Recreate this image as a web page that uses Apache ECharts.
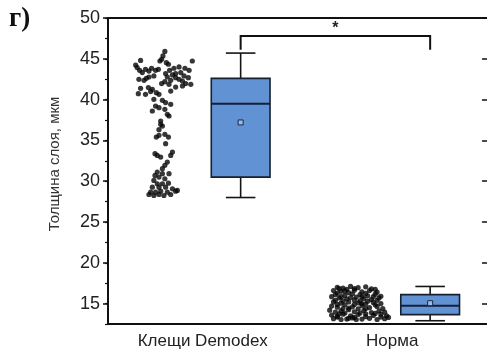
<!DOCTYPE html>
<html>
<head>
<meta charset="utf-8">
<script src="https://cdn.jsdelivr.net/npm/echarts@6/dist/echarts.min.js"></script>
<style>
html,body{margin:0;padding:0;background:#fff;}
#chart{width:487px;height:351px;}
</style>
</head>
<body>
<div id="chart"></div>
<script>
// ---------- data ----------
const categories = ['Клещи Demodex', 'Норма'];
const yTickLabels = ['12.5','15','17.5','20','22.5','25','27.5','30','32.5','35','37.5','40','42.5','45','47.5','50'];
const yAxisTitle = 'Толщина слоя, мкм';
const panelLabel = 'г)';

// individual measurements [jittered x, thickness]
const demodexPoints = [
  [0.800,45.90],[0.790,45.35],[0.783,44.94],[0.774,44.73],[0.808,44.53],[0.945,44.73],[0.819,44.33],
  [0.672,44.80],[0.646,44.24],[0.654,43.92],[0.667,43.59],[0.681,43.31],[0.698,43.71],[0.716,43.50],
  [0.730,43.84],[0.751,43.59],[0.766,43.71],[0.742,42.90],[0.716,42.77],[0.702,42.61],[0.690,42.36],
  [0.663,42.49],[0.804,43.19],[0.825,43.59],[0.848,43.84],[0.875,44.00],[0.906,43.84],[0.928,43.59],
  [0.857,43.19],[0.840,43.02],[0.813,42.77],[0.800,42.20],[0.831,42.36],[0.857,42.69],[0.875,42.49],
  [0.893,42.28],[0.910,41.96],[0.937,41.87],[0.901,42.90],[0.884,43.31],[0.924,42.69],[0.822,41.87],
  [0.783,41.96],[0.672,41.38],[0.713,41.47],[0.734,41.26],[0.660,40.73],[0.698,40.65],[0.725,40.98],
  [0.755,40.85],[0.769,40.65],[0.831,41.05],[0.857,41.54],[0.893,41.67],[0.742,40.03],[0.787,39.91],
  [0.804,39.63],[0.831,39.42],[0.751,39.21],[0.769,39.01],[0.800,38.81],[0.734,38.60],[0.813,38.19],
  [0.822,37.99],[0.778,37.38],[0.787,36.76],
  [0.778,36.97],[0.769,36.31],[0.800,35.74],[0.755,35.41],[0.819,35.41],[0.769,35.62],[0.804,34.60],
  [0.748,33.37],[0.760,33.16],[0.840,33.57],[0.831,33.16],[0.778,32.96],[0.813,32.34],[0.800,31.94],
  [0.787,31.53],[0.760,31.12],[0.822,30.92],[0.787,30.92],[0.748,30.71],[0.769,30.50],[0.800,30.30],
  [0.742,30.10],[0.760,29.69],[0.787,29.69],[0.819,29.76],[0.734,29.27],[0.769,29.27],[0.804,29.27],
  [0.840,29.07],[0.725,28.66],[0.751,28.66],[0.778,28.78],[0.813,28.66],[0.857,28.78],[0.742,28.25],
  [0.769,28.37],[0.795,28.25],[0.831,28.37],[0.866,28.87],[0.716,28.37]
];
const normaPoints = [
  [1.71,17.00],[1.74,16.90],[1.78,17.10],[1.82,16.95],[1.86,17.05],[1.89,16.80],[1.76,16.75],
  [1.69,16.60],[1.73,16.50],[1.80,16.65],[1.84,16.45],[1.88,16.60],[1.92,16.40],[1.71,16.30],[1.77,16.35],
  [1.70,16.10],[1.75,16.00],[1.79,16.20],[1.83,16.10],[1.87,15.95],[1.91,16.15],[1.94,15.90],[1.68,15.85],[1.81,15.80],
  [1.72,15.70],[1.76,15.55],[1.80,15.45],[1.85,15.60],[1.89,15.50],[1.93,15.70],[1.70,15.40],[1.78,15.75],[1.87,15.30],
  [1.69,15.20],[1.73,15.05],[1.77,15.20],[1.82,15.10],[1.86,14.95],[1.90,15.15],[1.94,15.00],[1.75,14.85],[1.80,14.90],
  [1.68,14.70],[1.71,14.55],[1.74,14.40],[1.79,14.60],[1.84,14.75],[1.88,14.50],[1.92,14.65],[1.95,14.40],[1.82,14.35],
  [1.67,14.20],[1.70,13.95],[1.73,14.10],[1.77,14.25],[1.80,14.00],[1.85,14.15],[1.89,13.90],[1.93,14.10],[1.96,13.95],[1.75,13.85],
  [1.68,13.60],[1.71,13.45],[1.74,13.70],[1.78,13.50],[1.82,13.65],[1.86,13.40],[1.90,13.55],[1.94,13.70],[1.97,13.50],[1.80,13.30],
  [1.69,13.15],[1.73,13.05],[1.77,13.20],[1.84,13.10],[1.88,13.20],[1.92,13.05],[1.96,13.15],[1.98,13.30],[1.71,13.35],
  [1.72,16.85],[1.80,16.85],[1.91,16.75],[1.75,16.55],[1.86,16.25],[1.73,15.85],[1.84,15.85],[1.90,15.85],
  [1.74,15.35],[1.83,15.35],[1.92,15.40],[1.71,14.90],[1.84,15.00],[1.91,14.85],[1.77,14.45],[1.86,14.40],
  [1.72,13.75],[1.83,13.85],[1.91,13.80],[1.76,13.10],[1.81,13.05],[1.94,13.35],[1.86,13.75],[1.79,13.25]
];

// box statistics: [group index, min, Q1, median, Q3, max, mean]
const boxStats = [
  [0, 28.0, 30.5, 39.5, 42.6, 45.7, 37.2],
  [1, 12.9, 13.65, 14.75, 16.1, 17.1, 15.05]
];

// significance bracket: [from group, to group, bracket level, leg end level]
const significance = [[0, 1, 47.8, 46.1]];
const sigLabel = '*';

// ---------- layout / style ----------
const BOX_OFFSET = 0.2;
const BOX_HALF = 0.155;
const CAP_HALF = 0.078;
const FONT = '"Liberation Sans", Arial, sans-serif';
const majorTick = (i, v) => Number(v) % 5 === 0;

const chart = echarts.init(document.getElementById('chart'), null, {renderer: 'canvas'});

const option = {
  animation: false,
  backgroundColor: '#fff',
  grid: {left: 108, right: -1, top: 18, bottom: 27, containLabel: false},
  graphic: [
    {type: 'text', left: 9, top: 6, style: {text: panelLabel, font: 'bold 27px "Liberation Serif", "Times New Roman", serif', fill: '#111'}},
    {type: 'text', x: 55, y: 164, rotation: Math.PI / 2,
     style: {text: yAxisTitle, font: '15px ' + FONT, fill: '#333', align: 'center', verticalAlign: 'middle'}}
  ],
  xAxis: [
    {type: 'value', min: 0.5, max: 2.5, show: false},
    {type: 'category', position: 'bottom', data: categories,
     axisLine: {lineStyle: {color: '#111', width: 2}},
     axisTick: {alignWithLabel: true, length: 5, lineStyle: {color: '#111', width: 1.5}},
     axisLabel: {fontSize: 17, fontFamily: FONT, color: '#222', margin: 9},
     splitLine: {show: false}},
    {type: 'category', position: 'top', data: categories,
     axisLine: {lineStyle: {color: '#111', width: 2}},
     axisTick: {alignWithLabel: true, inside: true, length: 5, lineStyle: {color: '#111', width: 1.5}},
     axisLabel: {show: false}, splitLine: {show: false}}
  ],
  yAxis: [
    {type: 'value', min: 12.5, max: 50, show: false},
    {type: 'category', position: 'left', data: yTickLabels, boundaryGap: false,
     axisLine: {lineStyle: {color: '#111', width: 2}},
     axisTick: {interval: majorTick, length: 5, lineStyle: {color: '#111', width: 1.5}},
     axisLabel: {interval: majorTick, fontSize: 18, fontFamily: FONT, color: '#222', margin: 8},
     splitLine: {show: false}},
    {type: 'category', position: 'left', data: yTickLabels, boundaryGap: false,
     axisLine: {show: false},
     axisTick: {interval: 0, length: 3, lineStyle: {color: '#111', width: 1.2}},
     axisLabel: {show: false}, splitLine: {show: false}},
    {type: 'category', position: 'right', data: yTickLabels, boundaryGap: false,
     axisLine: {show: false},
     axisTick: {interval: majorTick, inside: true, length: 5, lineStyle: {color: '#111', width: 1.5}},
     axisLabel: {show: false}, splitLine: {show: false}}
  ],
  series: [
    {type: 'scatter', xAxisIndex: 0, yAxisIndex: 0, data: demodexPoints,
     symbol: 'circle', symbolSize: 5.2, itemStyle: {color: '#050505'}, silent: true},
    {type: 'scatter', xAxisIndex: 0, yAxisIndex: 0, data: normaPoints,
     symbol: 'circle', symbolSize: 5.2, itemStyle: {color: '#050505'}, silent: true},
    {type: 'custom', xAxisIndex: 0, yAxisIndex: 0, data: boxStats,
     encode: {x: 0, y: [1, 2, 3, 4, 5]},
     renderItem: function (params, api) {
       const c = api.value(0) + 1 + BOX_OFFSET;
       const mn = api.value(1), q1 = api.value(2), med = api.value(3), q3 = api.value(4), mx = api.value(5), mean = api.value(6);
       const tl = api.coord([c - BOX_HALF, q3]);
       const br = api.coord([c + BOX_HALF, q1]);
       const pMax = api.coord([c, mx]), pQ3 = api.coord([c, q3]), pQ1 = api.coord([c, q1]), pMin = api.coord([c, mn]);
       const capL = api.coord([c - CAP_HALF, mx])[0], capR = api.coord([c + CAP_HALF, mx])[0];
       const medY = api.coord([c, med])[1];
       const pMean = api.coord([c, mean]);
       const line = {stroke: '#151515', lineWidth: 1.6};
       return {type: 'group', children: [
         {type: 'line', shape: {x1: pMax[0], y1: pMax[1], x2: pQ3[0], y2: pQ3[1]}, style: line},
         {type: 'line', shape: {x1: pQ1[0], y1: pQ1[1], x2: pMin[0], y2: pMin[1]}, style: line},
         {type: 'line', shape: {x1: capL, y1: pMax[1], x2: capR, y2: pMax[1]}, style: line},
         {type: 'line', shape: {x1: capL, y1: pMin[1], x2: capR, y2: pMin[1]}, style: line},
         {type: 'rect', shape: {x: tl[0], y: tl[1], width: br[0] - tl[0], height: br[1] - tl[1]},
          style: {fill: '#6192d3', stroke: '#17202e', lineWidth: 1.6}},
         {type: 'line', shape: {x1: tl[0], y1: medY, x2: br[0], y2: medY}, style: {stroke: '#14203a', lineWidth: 2}},
         {type: 'rect', shape: {x: pMean[0] - 2.5, y: pMean[1] - 2.5, width: 5, height: 5},
          style: {fill: '#9dbbe6', stroke: '#1b2a45', lineWidth: 1}}
       ]};
     }},
    {type: 'custom', xAxisIndex: 0, yAxisIndex: 0, data: significance,
     encode: {x: [0, 1], y: [2, 3]},
     renderItem: function (params, api) {
       const x1 = api.value(0) + 1 + BOX_OFFSET, x2 = api.value(1) + 1 + BOX_OFFSET;
       const top = api.value(2), leg = api.value(3);
       const a = api.coord([x1, leg]), b = api.coord([x1, top]), c = api.coord([x2, top]), d = api.coord([x2, leg]);
       const mid = api.coord([(x1 + x2) / 2, top]);
       return {type: 'group', children: [
         {type: 'polyline', shape: {points: [a, b, c, d]}, style: {stroke: '#111', lineWidth: 2, fill: null}},
         {type: 'text', x: mid[0], y: mid[1] - 7,
          style: {text: sigLabel, font: 'bold 16px ' + FONT, fill: '#222', align: 'center', verticalAlign: 'middle'}}
       ]};
     }}
  ]
};
chart.setOption(option);
</script>
</body>
</html>
